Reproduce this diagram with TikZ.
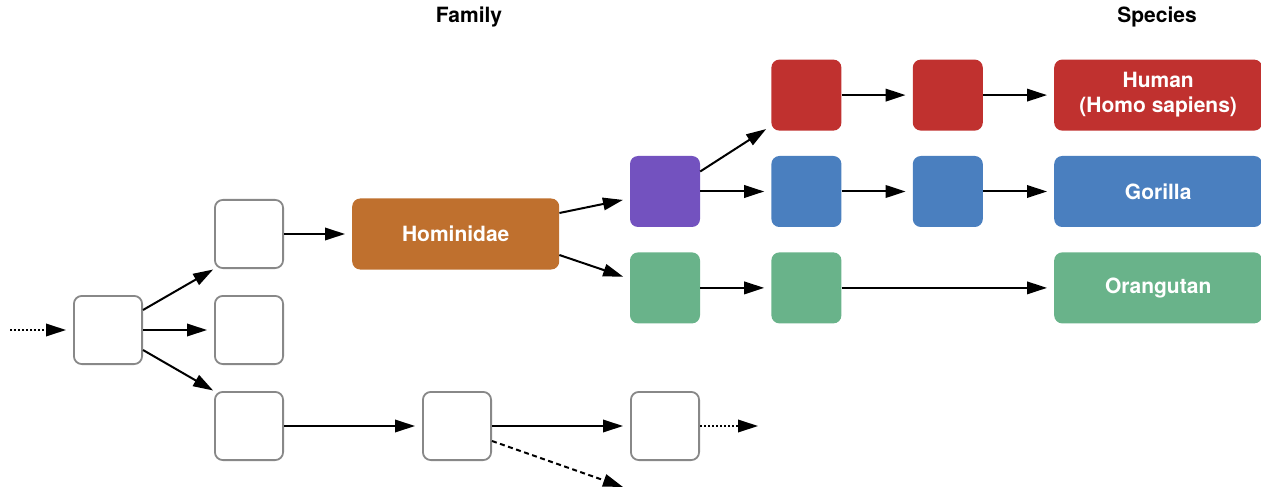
\documentclass[tikz,border=0pt]{standalone}
\usepackage{fontspec}
\setmainfont{TeX Gyre Heros}
\usepackage{tikz}
\usetikzlibrary{arrows.meta,positioning}
\definecolor{cladegray}{RGB}{136,136,136}
\definecolor{hominidorange}{RGB}{191,112,46}
\definecolor{apepurple}{RGB}{115,82,191}
\definecolor{humanred}{RGB}{192,49,47}
\definecolor{gorillablue}{RGB}{74,127,191}
\definecolor{orangutangreen}{RGB}{105,179,138}

\begin{document}
\begin{tikzpicture}[x=1pt,y=-1pt,
  font=\fontsize{21pt}{25pt}\selectfont\bfseries,
  clade/.style={draw=cladegray, line width=1.8pt, rounded corners=8pt, fill=white,
                minimum width=68.2pt, minimum height=68.2pt, inner sep=0pt},
  taxon/.style={rounded corners=8pt, minimum width=70pt, minimum height=71pt,
                inner sep=0pt, text=white, align=center},
  wide/.style={taxon, minimum width=208pt},
  arr/.style={-{Triangle[length=20pt,width=12.5pt]}, line width=2pt, shorten >=7pt},
  rank/.style={anchor=base},
  node distance=26pt and 71pt
]
\useasboundingbox (0,0) rectangle (1261,489);

% unnamed clades
\node[clade] (root) at (108,330) {};
\node[clade, right=of root] (b2) {};
\node[clade, above=of b2] (b1) {};
\node[clade, below=of b2] (b3) {};
\node[clade, right=138pt of b3] (c1) {};
\node[clade, right=138pt of c1] (c2) {};
\coordinate[left=63pt of root] (in);
\coordinate[right=58pt of c2] (out);
\coordinate (lost) at (623,487);

% great apes
\node[wide, fill=hominidorange, minimum width=207pt, right=68pt of b1] (hom) {Hominidae};
\node[taxon, fill=apepurple] (pur) at (665,191.5) {};
\node[taxon, fill=orangutangreen, below=25pt of pur] (grn1) {};
\node[taxon, fill=gorillablue, right=of pur] (blu1) {};
\node[taxon, fill=humanred, above=25pt of blu1] (red1) {};
\node[taxon, fill=orangutangreen, right=of grn1] (grn2) {};
\node[taxon, fill=gorillablue, right=of blu1] (blu2) {};
\node[taxon, fill=humanred, right=of red1] (red2) {};
\node[wide, fill=gorillablue, right=of blu2] (gor) {Gorilla};
\node[wide, fill=humanred, right=of red2] (hum) {Human\\(Homo sapiens)};
\node[wide, fill=orangutangreen, below=25pt of gor] (ora) {Orangutan};

\node[rank] (fam) at (469,23) {Family};
\node[rank] (spe) at (1157,23) {Species};

\draw[arr, dash pattern=on 2pt off 2pt] (in) -- (root);
\draw[arr, shorten >=1pt] ([yshift=20pt]root.east) -- (b1.south west);
\draw[arr] (root) -- (b2);
\draw[arr, shorten >=1pt] ([yshift=-20pt]root.east) -- (b3.north west);
\draw[arr] (b1) -- (hom);
\draw[arr] (b3) -- (c1);
\draw[arr] (c1) -- (c2);
\draw[arr, shorten >=0pt, dash pattern=on 2pt off 2pt] (c2) -- (out);
\draw[arr, shorten >=0pt, dash pattern=on 5pt off 3.5pt] ([yshift=-15pt]c1.east) -- (lost);

\draw[arr] ([yshift=21pt]hom.east) -- ([yshift=-7pt]pur.west);
\draw[arr] ([yshift=-21pt]hom.east) -- ([yshift=9pt]grn1.west);
\draw[arr, shorten >=6pt] ([yshift=20pt]pur.east) -- ([yshift=5pt]red1.south west);
\draw[arr] (pur) -- (blu1);
\draw[arr] (red1) -- (red2);
\draw[arr] (red2) -- (hum);
\draw[arr] (blu1) -- (blu2);
\draw[arr] (blu2) -- (gor);
\draw[arr] (grn1) -- (grn2);
\draw[arr] (grn2) -- (ora);
\end{tikzpicture}
\end{document}
